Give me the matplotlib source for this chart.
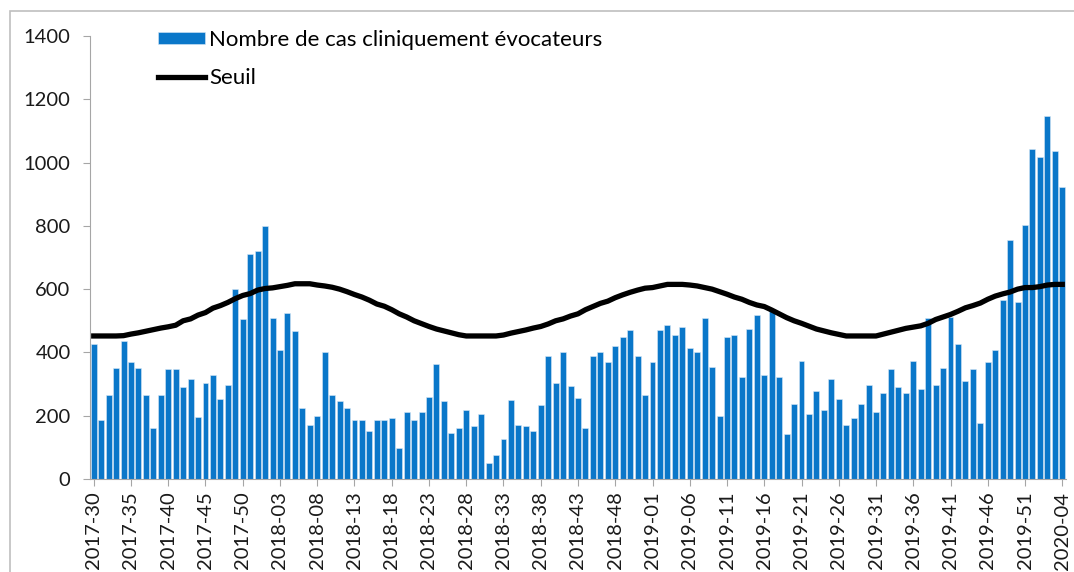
import matplotlib
matplotlib.use("Agg")
import matplotlib.pyplot as plt
import numpy as np
from matplotlib.patches import Rectangle

plt.rcParams["font.family"] = ["Lato", "DejaVu Sans"]

# semaines 2017-30 -> 2020-04
years = [2017, 2018, 2019, 2020]
first_week = [30, 1, 1, 1]
last_week = [52, 52, 52, 4]

# nombre de cas cliniquement évocateurs
cas = [
    428, 185, 265, 351, 437, 369, 351, 265, 161, 265, 348, 348, 292, 317, 195, 303,
    329, 253, 297, 600, 506, 712, 720, 799, 510, 409, 526, 467, 225, 172, 199, 402,
    265, 246, 225, 188, 185, 153, 188, 188, 194, 98, 212, 185, 212, 259, 363, 246,
    145, 160, 219, 166, 205, 49, 76, 126, 251, 171, 166, 153, 233, 390, 302, 402,
    295, 256, 160, 390, 402, 369, 420, 448, 471, 390, 264, 369, 471, 487, 454, 481,
    414, 402, 510, 355, 199, 448, 454, 321, 475, 519, 328, 535, 321, 143, 238, 374,
    206, 279, 219, 317, 252, 172, 194, 238, 296, 212, 273, 348, 290, 273, 374, 285,
    510, 296, 350, 512, 428, 311, 348, 178, 369, 409, 565, 754, 560, 802, 1042, 1017,
    1148, 1036, 922,
]

# seuil épidémique
seuil = [
    452, 452, 452, 452, 453, 458, 462, 467, 472, 477, 481, 486, 500, 506, 518, 526,
    540, 548, 558, 570, 580, 586, 597, 602, 604, 608, 612, 617, 617, 617, 613, 610,
    606, 600, 592, 583, 575, 565, 553, 546, 535, 522, 512, 500, 491, 482, 474, 468,
    462, 456, 452, 452, 452, 452, 452, 455, 461, 466, 471, 477, 482, 490, 500, 506,
    515, 522, 535, 545, 555, 562, 573, 582, 590, 597, 603, 605, 610, 615, 615, 615,
    613, 610, 605, 600, 592, 584, 575, 568, 558, 550, 545, 534, 522, 510, 500, 492,
    483, 474, 468, 462, 457, 452, 452, 452, 452, 452, 458, 464, 470, 476, 480, 484,
    492, 504, 512, 520, 530, 541, 548, 556, 568, 578, 585, 591, 600, 605, 605, 608,
    613, 615, 615,
]

semaines = []
for y, w0, w1 in zip(years, first_week, last_week):
    for w in range(w0, w1 + 1):
        semaines.append(f"{y}-{w:02d}")

assert len(semaines) == len(cas) == len(seuil)

ind = np.arange(len(semaines))

fig = plt.figure(figsize=(10.74, 5.72), dpi=100)
ax = fig.add_axes([90 / 1074, 1 - 479 / 572, 976 / 1074, 443 / 572])

bars = ax.bar(ind, cas, width=0.8, color="#0A77C9", edgecolor="#d8e8f5", linewidth=0.4)
(line,) = ax.plot(ind, seuil, color="black", linewidth=3.8)

ax.set_xlim(-0.5, len(semaines) - 0.5)
ax.set_ylim(0, 1400)
ax.set_yticks(np.arange(0, 1401, 200))
ax.set_xticks(ind[::5], [semaines[i] for i in ind[::5]], rotation=90)

for s in ["top", "right"]:
    ax.spines[s].set_visible(False)
for s in ["left", "bottom"]:
    ax.spines[s].set_color("#a6a6a6")
ax.tick_params(axis="both", labelsize=14.5, colors="#a6a6a6", labelcolor="#1a1a1a",
               length=5, pad=4)
ax.tick_params(axis="y", pad=9)

fig.legend([bars, line], ["Nombre de cas cliniquement évocateurs", "Seuil"],
           loc="upper left", bbox_to_anchor=(158 / 1074, 1 - 30 / 572), frameon=False,
           fontsize=16, handlelength=2.1, handleheight=0.5, handletextpad=0.2,
           labelspacing=0.8, borderpad=0, borderaxespad=0)

# cadre gris de la zone de graphique
fig.patches.append(Rectangle((10 / 1074, -0.1), 1.2, 1.1 - 11 / 572,
                             transform=fig.transFigure, fill=False,
                             edgecolor="#bfbfbf", linewidth=1.2))

fig.savefig("out.png", dpi=100)
